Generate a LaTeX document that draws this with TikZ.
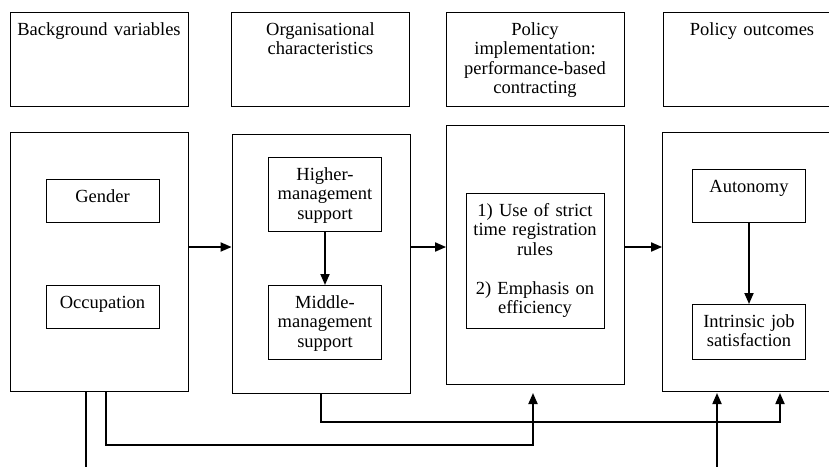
\documentclass[tikz,border=0pt]{standalone}
\usepackage{fontspec}
\setmainfont{Liberation Serif}
\usetikzlibrary{arrows.meta}

\begin{document}
\begin{tikzpicture}[
    x=1pt, y=-1pt,
    >={Triangle[length=11pt,width=9pt]},
    font=\fontsize{18.5}{19.5}\selectfont,
    header/.style={
        draw,
        line width=0.8pt,
        anchor=north,
        align=center,
        inner sep=0pt,
        text width=178pt,
        text height=23pt,
        text depth=71pt
    },
    group/.style={
        draw,
        line width=0.8pt,
        inner sep=0pt,
        minimum width=178pt,
        minimum height=259pt
    },
    item/.style={
        draw,
        line width=0.8pt,
        anchor=north,
        align=center,
        inner sep=0pt,
        text width=113pt,
        text height=23pt,
        text depth=#1
    },
    arrow/.style={->, line width=1.8pt},
    link/.style={line width=1.8pt}
]

\useasboundingbox (0,0) rectangle (829,466);
\clip (0,0) rectangle (829,466);

% HEADERS
\node[header] (bgh)  at (99,12)    {Background variables};
\node[header] (orgh) at (320.5,12) {Organisational\\characteristics};
\node[header] (polh) at (535,12)
{Policy\\implementation:\\performance-based\\contracting};
\node[header] (outh) at (752,12)   {Policy outcomes};

% GROUPS
\node[group] (bg)  at (99,262)    {};
\node[group] (org) at (321,263.5) {};
\node[group] (pol) at (535.5,255) {};
\node[group] (out) at (751.5,262) {};

% BACKGROUND
\node[item=20pt] (gender) at (102.5,179) {Gender};
\node[item=20pt] (occup)  at (102.5,285) {Occupation};

% ORGANISATION
\node[item=51pt] (higher) at (325,157) {Higher-\\management\\support};
\node[item=51pt] (middle) at (325,285) {Middle-\\management\\support};

\draw[arrow] (higher) -- (middle);

% POLICY
\node[item=112pt, text width=138pt] (rules) at (535,193)
{1) Use of strict\\time registration\\rules\\[19.5pt]2) Emphasis on\\efficiency};

% OUTCOMES
\node[item=30pt] (auton) at (749,169) {Autonomy};
\node[item=32pt] (satis) at (749,304) {Intrinsic job\\satisfaction};

\draw[arrow] (auton) -- (satis);

% MAIN FLOW
\coordinate (row) at (0,247);

\draw[arrow] (bg.east |- row)  -- (org.west |- row);
\draw[arrow] (org.east |- row) -- (pol.west |- row);
\draw[arrow] (pol.east |- row) -- (out.west |- row);

% CONTROL LINES
\coordinate (bgfree)  at (86,470);
\coordinate (outfree) at (717,470);
\coordinate (polin)   at (533,393);
\coordinate (outin)   at (780,393);
\coordinate (outin2)  at (717,393);

\draw[link]  (bg.south -| bgfree) -- (bgfree);
\draw[arrow] ([xshift=7pt]bg.south) -- ++(0,53) -| (polin);
\draw[arrow] (org.south) -- ++(0,28.5) -| (outin);
\draw[arrow] (outfree) -- (outin2);

\end{tikzpicture}
\end{document}
